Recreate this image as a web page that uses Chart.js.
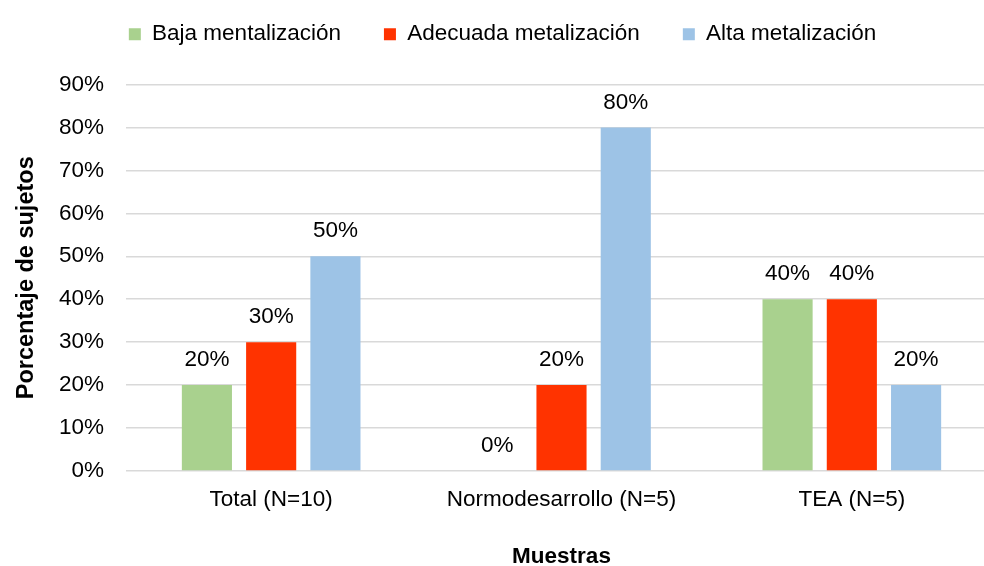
<!DOCTYPE html>
<html>
<head>
<meta charset="utf-8">
<script src="https://cdn.jsdelivr.net/npm/chart.js@4"></script>
<style>
  html, body { margin: 0; padding: 0; background: #fff; overflow: hidden; }
  #wrap { width: 1000px; height: 566px; }
</style>
</head>
<body>
<div id="wrap"><canvas id="chart"></canvas></div>
<script>
// --- data ---
const categories = ['Total (N=10)', 'Normodesarrollo (N=5)', 'TEA (N=5)'];
const seriesNames = ['Baja mentalización', 'Adecuada metalización', 'Alta metalización'];
const bajaValues = [20, 0, 40];
const adecuadaValues = [30, 20, 40];
const altaValues = [50, 80, 20];
const seriesColors = ['#A9D18E', '#FF3300', '#9DC3E6'];

const FONT = '"Liberation Sans", Arial, sans-serif';

// writes the percent above every bar
const barLabels = {
  id: 'barLabels',
  afterDatasetsDraw(chart) {
    const ctx = chart.ctx;
    ctx.save();
    ctx.font = '22.5px ' + FONT;
    ctx.fillStyle = '#000';
    ctx.textAlign = 'center';
    ctx.textBaseline = 'middle';
    chart.data.datasets.forEach((ds, i) => {
      chart.getDatasetMeta(i).data.forEach((bar, j) => {
        ctx.fillText(ds.data[j] + '%', bar.x, bar.y - 25);
      });
    });
    ctx.restore();
  }
};

// more room under the legend
const legendSpace = {
  id: 'legendSpace',
  beforeInit(chart) {
    const fit = chart.legend.fit;
    chart.legend.fit = function () {
      fit.call(this);
      this.height += 29;
    };
  }
};

const allValues = [bajaValues, adecuadaValues, altaValues];

new Chart(document.getElementById('chart'), {
  type: 'bar',
  data: {
    labels: categories,
    datasets: seriesNames.map((name, i) => ({
      label: name,
      data: allValues[i],
      backgroundColor: seriesColors[i],
      barPercentage: 0.78,
      categoryPercentage: 0.664
    }))
  },
  options: {
    responsive: true,
    maintainAspectRatio: false,
    animation: false,
    layout: { padding: { left: 8, right: 3, top: -20, bottom: -4 } },
    plugins: {
      legend: {
        position: 'top',
        labels: {
          boxWidth: 12,
          boxHeight: 12,
          padding: 43,
          color: '#000',
          font: { family: FONT, size: 22.5 }
        }
      },
      tooltip: { enabled: false }
    },
    scales: {
      x: {
        grid: { display: false },
        border: { display: false },
        ticks: { color: '#000', padding: 7, font: { family: FONT, size: 22.5 } },
        title: {
          display: true,
          text: 'Muestras',
          color: '#000',
          padding: { top: 23, bottom: 0 },
          font: { family: FONT, size: 22.5, weight: 'bold' }
        }
      },
      y: {
        min: 0,
        max: 90,
        ticks: {
          stepSize: 10,
          padding: 22,
          color: '#000',
          font: { family: FONT, size: 22.5 },
          callback: v => v + '%'
        },
        grid: { color: '#D9D9D9', lineWidth: 1.5, drawTicks: false },
        border: { display: false },
        title: {
          display: true,
          text: 'Porcentaje de sujetos',
          color: '#000',
          padding: 4,
          font: { family: FONT, size: 23.5, weight: 'bold' }
        },
        afterFit(scale) { scale.width = 118; }
      }
    }
  },
  plugins: [barLabels, legendSpace]
});
</script>
</body>
</html>
